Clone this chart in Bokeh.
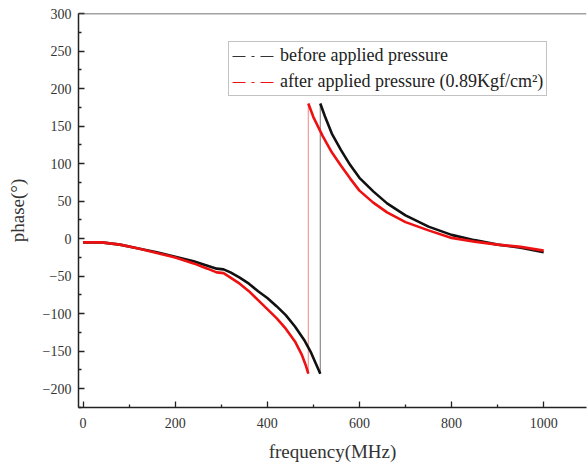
from bokeh.plotting import figure
from bokeh.models import Range1d, Span, Legend, LegendItem, FixedTicker
from bokeh.embed import file_html
from bokeh.resources import INLINE

# before applied pressure
before_freq_lo = [0, 40, 80, 120, 160, 200, 240, 270, 290, 305, 320, 340, 360, 380, 400, 420, 440, 460, 480, 495, 505, 515]
before_phase_lo = [-5, -5, -8, -13, -18, -24, -30, -36, -40, -41, -45, -52, -60, -70, -79, -90, -102, -117, -135, -152, -166, -180]
before_freq_hi = [515, 525, 540, 560, 580, 600, 630, 660, 700, 750, 800, 850, 900, 950, 1000]
before_phase_hi = [180, 163, 140, 118, 98, 81, 63, 47, 31, 16, 5, -2, -8, -12, -18]

# after applied pressure (0.89 Kgf/cm2)
after_freq_lo = [0, 40, 80, 120, 160, 200, 240, 270, 290, 305, 320, 340, 360, 380, 400, 420, 440, 460, 475, 483, 489]
after_phase_lo = [-5, -5, -8, -13, -19, -25, -33, -40, -45, -46, -52, -60, -70, -82, -94, -106, -120, -137, -155, -168, -180]
after_freq_hi = [489, 500, 520, 540, 560, 580, 600, 630, 660, 700, 750, 800, 850, 900, 950, 1000]
after_phase_hi = [180, 162, 137, 115, 97, 80, 64, 48, 35, 22, 11, 1, -4, -8, -11, -16]

x_ticks = [0, 200, 400, 600, 800, 1000]
x_minor = [100, 300, 500, 700, 900]
y_ticks = [-200, -150, -100, -50, 0, 50, 100, 150, 200, 250, 300]
y_minor = [-225, -175, -125, -75, -25, 25, 75, 125, 175, 225, 275]

FONT = "Liberation Serif"

p = figure(width=588, height=466, output_backend="svg", toolbar_location=None,
           x_range=Range1d(-10, 1093), y_range=Range1d(-225, 300),
           min_border_left=78, min_border_top=13, min_border_right=2, min_border_bottom=59)
p.outline_line_color = None
p.grid.grid_line_color = None
p.background_fill_color = "white"

# jump lines
p.line([before_freq_lo[-1], before_freq_hi[0]], [before_phase_lo[-1], before_phase_hi[0]],
       line_color="#8a8a8a", line_width=1.2)
p.line([after_freq_lo[-1], after_freq_hi[0]], [after_phase_lo[-1], after_phase_hi[0]],
       line_color="#f29a9a", line_width=1.2)

# curves
p.line(before_freq_lo, before_phase_lo, line_color="#111111", line_width=2.6)
p.line(before_freq_hi, before_phase_hi, line_color="#111111", line_width=2.6)
p.line(after_freq_lo, after_phase_lo, line_color="#ee1111", line_width=2.6)
p.line(after_freq_hi, after_phase_hi, line_color="#ee1111", line_width=2.6)

# legend dummies (outside the visible range)
r1 = p.line([-2000, -1990], [0, 0], line_color="#333333", line_width=1.2, line_dash="13 6 3 6")
r2 = p.line([-2000, -1990], [0, 0], line_color="#ee1111", line_width=1.2, line_dash="13 6 3 6")
legend = Legend(items=[LegendItem(label="before applied pressure", renderers=[r1]),
                       LegendItem(label="after applied pressure (0.89Kgf/cm²)", renderers=[r2])],
                location=(150, 311))
legend.label_text_font = FONT
legend.label_text_font_size = "18px"
legend.label_text_color = "#222222"
legend.border_line_color = "#888888"
legend.border_line_width = 1
legend.glyph_width = 42
legend.glyph_height = 18
legend.label_height = 18
legend.label_standoff = 6
legend.spacing = 5
legend.padding = 3
legend.margin = 0
p.add_layout(legend, "center")

# top border
p.add_layout(Span(location=300, dimension="width", line_color="#444444", line_width=1.5))

for ax in (p.xaxis[0], p.yaxis[0]):
    ax.axis_line_color = "#222222"
    ax.axis_line_width = 1.5
    ax.major_tick_line_color = "#222222"
    ax.minor_tick_line_color = "#222222"
    ax.major_tick_line_width = 1.3
    ax.minor_tick_line_width = 1.3
    ax.major_tick_in = 6
    ax.major_tick_out = 0
    ax.minor_tick_in = 3
    ax.minor_tick_out = 0
    ax.major_label_text_font = FONT
    ax.major_label_text_font_size = "14px"
    ax.major_label_text_color = "#333333"
    ax.axis_label_text_font = FONT
    ax.axis_label_text_font_size = "19px"
    ax.axis_label_text_font_style = "normal"
    ax.axis_label_text_color = "#333333"

p.xaxis[0].ticker = FixedTicker(ticks=x_ticks, minor_ticks=x_minor)
p.yaxis[0].ticker = FixedTicker(ticks=y_ticks, minor_ticks=y_minor)
p.xaxis[0].axis_label = "frequency(MHz)"
p.yaxis[0].axis_label = "phase(°)"
p.xaxis[0].major_label_standoff = 10
p.yaxis[0].major_label_standoff = 7
p.xaxis[0].axis_label_standoff = 10
p.yaxis[0].axis_label_standoff = 12

open("out.html", "w").write(file_html(p, INLINE))
